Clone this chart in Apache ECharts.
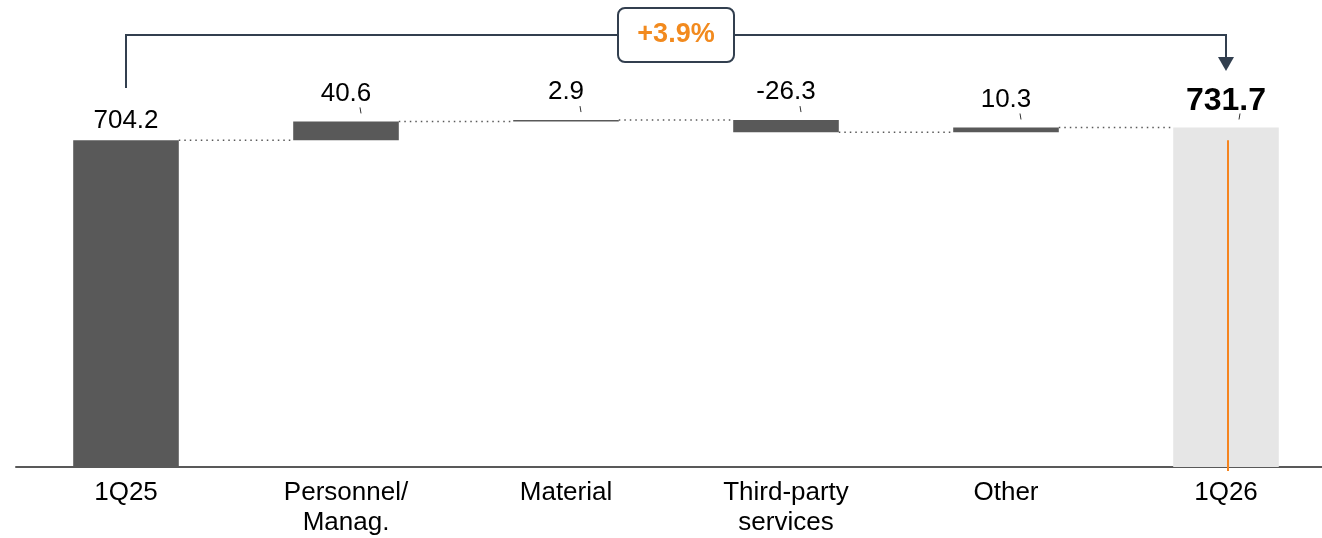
<!DOCTYPE html>
<html>
<head>
<meta charset="utf-8">
<script src="https://cdn.jsdelivr.net/npm/echarts@6/dist/echarts.min.js"></script>
<style>
  html, body { margin: 0; padding: 0; background: #fff; }
  #chart { width: 1322px; height: 538px; }
</style>
</head>
<body>
<div id="chart"></div>
<script>
// data
const categories = ['1Q25', 'Personnel/\nManag.', 'Material', 'Third-party\nservices', 'Other', '1Q26'];
const startValue = 704.2;
const deltas = [40.6, 2.9, -26.3, 10.3];
const endValue = 731.7;
const growthLabel = '+3.9%';

const FONT = "'Liberation Sans', Arial, sans-serif";
const DARK = '#595959';
const BAR_RATIO = 0.48;

// build waterfall stacks
const baseData = [0];
const barData = [{ value: startValue, itemStyle: { color: DARK }, label: { distance: 6 } }];
const levels = [startValue]; // level at right edge of each bar
let running = startValue;
deltas.forEach(d => {
  baseData.push(d >= 0 ? running : running + d);
  barData.push({ value: Math.abs(d), itemStyle: { color: DARK }, label: { formatter: d.toFixed(1) } });
  running += d;
  levels.push(running);
});
baseData.push(0);
barData.push({
  value: endValue,
  itemStyle: { color: '#e6e6e6' },
  label: { fontWeight: 'bold', fontSize: 32, distance: 10 }
});

const tops = baseData.map((b, i) => b + barData[i].value);

const myChart = echarts.init(document.getElementById('chart'));
const option = {
  animation: false,
  grid: { left: 16, right: -14, top: 3, bottom: 71, outerBoundsMode: 'none', containLabel: false },
  xAxis: {
    type: 'category',
    data: categories,
    axisTick: { show: false },
    axisLine: { lineStyle: { color: DARK, width: 2 } },
    axisLabel: { color: '#000', fontSize: 26, fontFamily: FONT, lineHeight: 30, margin: 11 }
  },
  yAxis: { type: 'value', min: 0, max: 1000, show: false, splitLine: { show: false } },
  series: [
    {
      type: 'bar', stack: 'w', data: baseData, barWidth: BAR_RATIO * 100 + '%',
      itemStyle: { color: 'transparent' }, silent: true
    },
    {
      type: 'bar', stack: 'w', data: barData, barWidth: BAR_RATIO * 100 + '%',
      label: {
        show: true, position: 'top', distance: 15, color: '#000',
        fontSize: 26, fontFamily: FONT
      }
    },
    {
      // dotted connectors
      type: 'custom',
      data: levels.map((lv, i) => [i, lv]),
      renderItem: (params, api) => {
        const i = api.value(0), lv = api.value(1);
        const half = api.size([1, 0])[0] * BAR_RATIO / 2;
        const a = api.coord([i, lv]), b = api.coord([i + 1, lv]);
        return {
          type: 'line',
          shape: { x1: a[0] + half, y1: a[1], x2: b[0] - half, y2: b[1] },
          style: { stroke: DARK, lineWidth: 1.5, lineDash: [1.5, 4] }
        };
      },
      silent: true, z: 1
    },
    {
      // little leader ticks above labels
      type: 'custom',
      data: tops.map((t, i) => [i, t]).slice(1),
      renderItem: (params, api) => {
        const p = api.coord([api.value(0), api.value(1)]);
        const last = api.value(0) === categories.length - 1;
        return {
          type: 'line',
          shape: { x1: p[0] + 14, y1: p[1] - 14, x2: p[0] + (last ? 13 : 15), y2: p[1] - 8 },
          style: { stroke: '#333', lineWidth: 1 }
        };
      },
      silent: true
    },
    {
      // prior-year marker inside 1Q26
      type: 'custom',
      data: [[categories.length - 1, startValue]],
      renderItem: (params, api) => {
        const top = api.coord([api.value(0), api.value(1)]);
        const bot = api.coord([api.value(0), 0]);
        return {
          type: 'line',
          shape: { x1: top[0] + 2, y1: top[1], x2: bot[0] + 2, y2: bot[1] + 4 },
          style: { stroke: '#f5841f', lineWidth: 2 }
        };
      },
      silent: true, z: 5
    },
    {
      // growth bracket
      type: 'custom',
      data: [[0, categories.length - 1]],
      renderItem: (params, api) => {
        const x0 = api.coord([api.value(0), 0])[0];
        const x1 = api.coord([api.value(1), 0])[0];
        const mid = (x0 + x1) / 2;
        const col = '#323f4f';
        return {
          type: 'group',
          children: [
            { type: 'polyline', shape: { points: [[x0, 88], [x0, 35], [x1, 35], [x1, 60]] },
              style: { stroke: col, lineWidth: 2, fill: null } },
            { type: 'polygon', shape: { points: [[x1 - 8, 57], [x1 + 8, 57], [x1, 71]] },
              style: { fill: col } },
            { type: 'rect', shape: { x: mid - 58, y: 8, width: 116, height: 54, r: 7 },
              style: { fill: '#fff', stroke: col, lineWidth: 2 } },
            { type: 'text', x: mid, y: 35,
              style: { text: growthLabel, fill: '#f28a1e', font: 'bold 27px ' + FONT,
                       align: 'center', verticalAlign: 'middle' } }
          ]
        };
      },
      silent: true
    }
  ]
};
myChart.setOption(option);
window.addEventListener('resize', () => {
  myChart.resize();
});
</script>
</body>
</html>
